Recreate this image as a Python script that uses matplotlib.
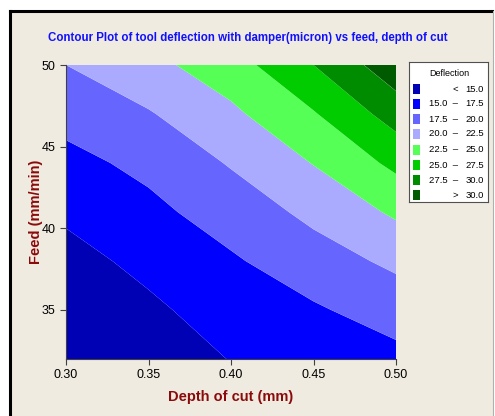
import matplotlib.pyplot as plt
import matplotlib.patches as mpatches
import numpy as np

# Data (deflection in micron on a depth x feed grid)
depth = [0.30, 0.35, 0.40, 0.45, 0.50]
feed = [32, 35, 38, 41, 44, 47, 50]
# rows = feed, columns = depth
deflection = [
    [11.5, 13.3, 15.1, 15.9, 16.8],
    [12.8, 14.5, 16.2, 17.2, 18.6],
    [14.1, 15.7, 17.2, 18.9, 20.5],
    [15.45, 16.9, 18.6, 20.6, 22.9],
    [16.8, 18.1, 20.2, 22.6, 25.6],
    [18.3, 19.8, 22.0, 24.8, 28.6],
    [20.0, 21.8, 23.9, 27.5, 31.6],
]
levels = [15.0, 17.5, 20.0, 22.5, 25.0, 27.5, 30.0]
colors = ['#0000B4', '#0000FF', '#6666FF', '#AAAAFF',
          '#55FF55', '#00CC00', '#008C00', '#005A00']
xticks = [0.30, 0.35, 0.40, 0.45, 0.50]
yticks = [35, 40, 45, 50]

bg = '#EFEBE1'
red = '#8B0A0A'
plt.rcParams['font.family'] = ['Liberation Sans', 'DejaVu Sans']

fig = plt.figure(figsize=(4.95, 4.16), dpi=100)
fig.patch.set_facecolor('white')

# window-like panel with black left/top border
panel = mpatches.Rectangle((9 / 495, 0), 484 / 495, 405 / 416, transform=fig.transFigure,
                           facecolor=bg, edgecolor='none', zorder=-10)
fig.add_artist(panel)
fig.add_artist(plt.Line2D([9.5 / 495, 9.5 / 495], [0, 405 / 416], color='black', lw=2.2,
                          transform=fig.transFigure, zorder=-5))
fig.add_artist(plt.Line2D([9.5 / 495, 492 / 495], [405 / 416, 405 / 416], color='black', lw=2.2,
                          transform=fig.transFigure, zorder=-5))
fig.add_artist(plt.Line2D([493 / 495, 493 / 495], [0, 405 / 416], color='#B0B0B0', lw=0.8,
                          transform=fig.transFigure, zorder=-5))

ax = fig.add_axes([66 / 495, 1 - 359 / 416, 330 / 495, 294 / 416])
X, Y = np.meshgrid(depth, feed)
Z = np.array(deflection)
bounds = [-1e3] + levels + [1e3]
ax.contourf(X, Y, Z, levels=bounds, colors=colors, antialiased=True)
ax.set_xlim(0.30, 0.50)
ax.set_ylim(32, 50)
ax.set_xticks(xticks)
ax.set_xticklabels([f'{t:.2f}' for t in xticks])
ax.set_yticks(yticks)
ax.tick_params(labelsize=9, length=4, width=0.8, color='#404040')
for s in ax.spines.values():
    s.set_color('#404040')
    s.set_linewidth(0.8)
ax.spines['top'].set_visible(False)
ax.spines['right'].set_visible(False)

ax.set_xlabel('Depth of cut (mm)', fontsize=10.5, fontweight='bold', color=red, labelpad=6)
ax.set_ylabel('Feed (mm/min)', fontsize=10.5, fontweight='bold', color=red, labelpad=-1)
fig.text(0.5, 1 - 38 / 416, 'Contour Plot of tool deflection with damper(micron) vs feed, depth of cut',
         ha='center', va='center', fontsize=8.3, fontweight='bold', color='#1010FF')

# legend box
lg = fig.add_axes([409 / 495, 1 - 202 / 416, 79 / 495, 140 / 416])
lg.set_xlim(409, 488)
lg.set_ylim(202, 62)
lg.set_xticks([])
lg.set_yticks([])
lg.set_facecolor('white')
for s in lg.spines.values():
    s.set_color('#505050')
    s.set_linewidth(0.8)
lg.text(449, 74, 'Deflection', ha='center', va='center', fontsize=6.5)
row_y = [89, 104, 119, 134, 150, 165, 180, 195]
labels = [('<', f'{levels[0]:.1f}')]
for lo, hi in zip(levels[:-1], levels[1:]):
    labels.append((f'{lo:.1f}  \u2013', f'{hi:.1f}'))
labels.append(('>', f'{levels[-1]:.1f}'))
for y, c, (a, b) in zip(row_y, colors, labels):
    lg.add_patch(mpatches.Rectangle((413, y - 5), 7, 10, facecolor=c, edgecolor='none'))
    lg.text(458, y, a, ha='right', va='center', fontsize=6.8)
    lg.text(484, y, b, ha='right', va='center', fontsize=6.8)

fig.savefig('out.png', dpi=100, facecolor=fig.get_facecolor())
